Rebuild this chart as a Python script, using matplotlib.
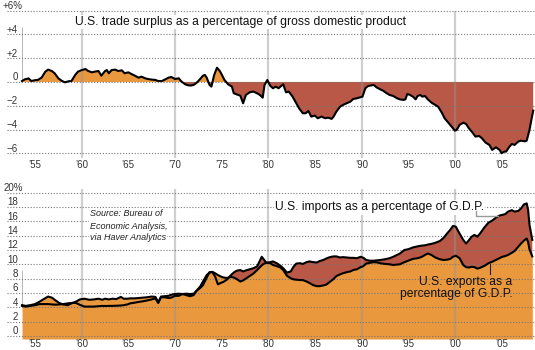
import matplotlib
matplotlib.use('Agg')
from matplotlib import pyplot as plt

plt.rcParams['font.family'] = ['Liberation Sans', 'DejaVu Sans']

ORANGE = '#e9983e'
RED = '#b95846'

# trade surplus as % of GDP (top panel)
bal_years = [1953.6, 1953.9, 1954.3, 1954.6, 1955.0, 1955.3, 1955.7, 1956.1, 1956.4, 1956.8,
             1957.1, 1957.5, 1957.9, 1958.2, 1958.6, 1958.9, 1959.3, 1959.6, 1960.0, 1960.4,
             1960.7, 1961.1, 1961.4, 1961.8, 1962.1, 1962.5, 1962.7, 1962.9, 1963.2, 1963.6,
             1963.9, 1964.3, 1964.6, 1965.0, 1965.4, 1965.7, 1966.1, 1966.4, 1966.8, 1967.1,
             1967.5, 1967.9, 1968.2, 1968.6, 1968.9, 1969.3, 1969.6, 1970.0, 1970.4, 1970.7,
             1971.1, 1971.4, 1971.7, 1972.0, 1972.3, 1972.7, 1973.0, 1973.2, 1973.4, 1973.7,
             1973.9, 1974.2, 1974.5, 1974.8, 1975.0, 1975.3, 1975.7, 1976.1, 1976.3, 1976.6,
             1977.0, 1977.3, 1977.6, 1978.0, 1978.4, 1978.8, 1979.1, 1979.4, 1979.6, 1979.9,
             1980.2, 1980.5, 1980.8, 1981.1, 1981.3, 1981.6, 1981.9, 1982.2, 1982.6, 1982.9,
             1983.3, 1983.7, 1984.0, 1984.3, 1984.6, 1985.0, 1985.3, 1985.7, 1986.1, 1986.4,
             1986.8, 1987.0, 1987.3, 1987.7, 1988.0, 1988.4, 1988.8, 1989.1, 1989.5, 1989.8,
             1990.1, 1990.4, 1990.7, 1991.1, 1991.3, 1991.6, 1992.0, 1992.3, 1992.7, 1993.0,
             1993.4, 1993.8, 1994.1, 1994.5, 1994.7, 1994.9, 1995.2, 1995.5, 1995.8, 1996.0,
             1996.3, 1996.5, 1996.8, 1997.1, 1997.5, 1997.9, 1998.2, 1998.6, 1998.9, 1999.3,
             1999.7, 2000.0, 2000.2, 2000.5, 2000.9, 2001.2, 2001.5, 2001.9, 2002.2, 2002.6,
             2002.9, 2003.3, 2003.7, 2004.0, 2004.4, 2004.8, 2005.0, 2005.3, 2005.5, 2005.8,
             2006.1, 2006.4, 2006.8, 2007.1, 2007.5, 2007.7, 2008.0, 2008.2, 2008.4]
bal_values = [0.08, 0.22, 0.30, 0.08, 0.15, 0.17, 0.37, 0.87, 1.04, 0.92,
              0.73, 0.30, 0.08, -0.03, 0.06, 0.08, 0.59, 0.87, 1.00, 1.09,
              0.92, 0.81, 0.87, 0.92, 0.53, 0.92, 1.00, 0.73, 1.00, 1.04,
              0.92, 0.98, 0.73, 0.81, 0.64, 0.53, 0.36, 0.45, 0.31, 0.25,
              0.20, 0.17, 0.08, 0.08, 0.20, 0.36, 0.42, 0.25, 0.31, 0.03,
              -0.20, -0.28, -0.30, -0.25, -0.08, 0.25, 0.53, 0.59, 0.36, -0.25,
              -0.39, 0.59, 1.20, 0.92, 0.64, 0.17, -0.20, -0.39, -0.95, -1.04,
              -1.15, -1.79, -1.09, -0.87, -0.81, -0.95, -1.09, -1.32, -0.25, 0.17,
              -0.31, -0.53, -0.39, -0.53, -0.39, -0.20, -0.87, -0.81, -1.23, -1.65,
              -2.21, -2.63, -2.63, -2.44, -2.91, -2.83, -3.05, -2.91, -3.05, -3.00,
              -3.10, -2.91, -2.49, -2.07, -1.93, -1.79, -1.65, -1.43, -1.37, -1.30,
              -1.23, -0.53, -0.34, -0.28, -0.25, -0.45, -0.62, -0.73, -0.95, -1.09,
              -1.18, -1.37, -1.46, -1.51, -1.46, -1.01, -1.09, -1.23, -1.46, -1.18,
              -1.09, -1.23, -1.18, -1.46, -1.74, -1.93, -2.07, -2.58, -3.05, -3.42,
              -3.81, -4.09, -4.03, -3.61, -3.42, -3.53, -3.89, -4.26, -4.59, -4.54,
              -4.73, -5.10, -5.29, -5.71, -5.49, -5.71, -5.99, -5.85, -5.85, -5.49,
              -5.21, -5.29, -5.01, -4.93, -4.99, -4.93, -4.03, -3.19, -2.41]

# exports and imports as % of GDP (bottom panel)
trade_years = [1953.6, 1954.0, 1954.5, 1955.0, 1955.5, 1956.0, 1956.4, 1956.8, 1957.2, 1957.6,
               1958.0, 1958.5, 1959.0, 1959.4, 1959.8, 1960.3, 1960.8, 1961.3, 1961.8, 1962.2,
               1962.5, 1962.9, 1963.3, 1963.7, 1964.2, 1964.5, 1964.9, 1965.2, 1965.7, 1966.1,
               1966.6, 1967.0, 1967.5, 1967.9, 1968.2, 1968.5, 1968.9, 1969.3, 1969.6, 1970.0,
               1970.4, 1970.8, 1971.2, 1971.6, 1972.0, 1972.3, 1972.7, 1973.0, 1973.4, 1973.7,
               1974.0, 1974.3, 1974.6, 1974.9, 1975.2, 1975.6, 1976.0, 1976.3, 1976.6, 1977.0,
               1977.3, 1977.6, 1978.0, 1978.4, 1978.8, 1979.1, 1979.3, 1979.5, 1979.8, 1980.2,
               1980.5, 1980.9, 1981.3, 1981.6, 1982.0, 1982.4, 1982.7, 1983.0, 1983.4, 1983.7,
               1984.1, 1984.4, 1984.8, 1985.2, 1985.5, 1985.9, 1986.2, 1986.6, 1987.0, 1987.3,
               1987.7, 1988.0, 1988.4, 1988.8, 1989.1, 1989.5, 1989.9, 1990.2, 1990.5, 1990.9,
               1991.3, 1991.7, 1992.0, 1992.5, 1993.0, 1993.4, 1993.8, 1994.1, 1994.6, 1995.0,
               1995.5, 1996.0, 1996.4, 1996.8, 1997.1, 1997.5, 1997.9, 1998.4, 1998.8, 1999.2,
               1999.5, 1999.8, 2000.1, 2000.5, 2000.9, 2001.2, 2001.5, 2001.8, 2002.1, 2002.4,
               2002.7, 2003.2, 2003.6, 2004.0, 2004.4, 2004.8, 2005.1, 2005.4, 2005.7, 2006.1,
               2006.4, 2006.8, 2007.1, 2007.4, 2007.7, 2007.85, 2008.0, 2008.3]
exports = [4.3, 4.2, 4.3, 4.45, 4.8, 5.2, 5.5, 5.35, 4.95, 4.6,
           4.4, 4.3, 4.6, 4.8, 5.1, 5.2, 5.05, 5.1, 5.2, 5.05,
           5.2, 5.1, 5.2, 5.15, 5.45, 5.2, 5.2, 5.25, 5.25, 5.3,
           5.35, 5.4, 5.5, 5.45, 4.7, 5.5, 5.55, 5.6, 5.75, 5.85,
           5.9, 5.85, 5.7, 5.55, 5.7, 6.3, 6.9, 7.6, 8.5, 8.85,
           8.95, 8.75, 8.5, 8.3, 8.15, 8.1, 8.25, 8.15, 7.95, 7.6,
           7.75, 8.0, 8.35, 8.7, 9.2, 9.6, 9.85, 10.05, 10.25, 10.15,
           9.9, 9.75, 9.55, 9.2, 8.4, 8.05, 7.9, 7.85, 7.8, 7.8,
           7.6, 7.4, 7.1, 6.95, 6.95, 7.05, 7.15, 7.55, 7.95, 8.35,
           8.6, 8.75, 8.9, 9.0, 9.2, 9.3, 9.6, 9.75, 10.1, 10.2,
           10.3, 10.25, 10.15, 10.05, 10.0, 9.9, 9.95, 10.0, 10.3, 10.5,
           10.75, 10.85, 11.0, 11.3, 11.5, 11.3, 10.95, 10.7, 10.6, 10.65,
           10.75, 11.05, 11.2, 10.85, 9.9, 9.6, 9.55, 9.65, 9.6, 9.4,
           9.5, 9.8, 10.15, 10.35, 10.6, 10.85, 11.05, 11.15, 11.3, 11.6,
           11.85, 12.45, 12.9, 13.3, 13.6, 13.1, 12.1, 11.1]
imports = [4.2, 4.1, 4.2, 4.3, 4.45, 4.45, 4.45, 4.4, 4.37, 4.4,
           4.45, 4.55, 4.62, 4.6, 4.35, 4.1, 4.1, 4.1, 4.15, 4.2,
           4.18, 4.2, 4.2, 4.22, 4.25, 4.3, 4.4, 4.55, 4.65, 4.75,
           4.85, 4.95, 5.1, 5.25, 4.6, 5.4, 5.4, 5.3, 5.35, 5.6,
           5.6, 5.85, 5.9, 5.85, 5.9, 6.3, 6.7, 7.1, 8.15, 8.9,
           8.9, 8.3, 7.2, 7.4, 7.55, 7.9, 8.5, 8.85, 9.1, 9.2,
           9.0, 9.15, 9.3, 9.45, 9.7, 10.5, 11.05, 10.7, 10.2, 10.3,
           10.4, 10.15, 9.8, 9.45, 8.85, 9.0, 9.65, 10.1, 10.15, 10.05,
           10.3, 10.4, 10.3, 10.25, 10.45, 10.6, 10.8, 11.0, 11.1, 11.1,
           10.95, 11.0, 10.95, 10.9, 10.9, 10.85, 11.05, 10.9, 10.6, 10.5,
           10.5, 10.55, 10.6, 10.7, 10.85, 11.05, 11.3, 11.5, 12.0, 12.1,
           12.35, 12.5, 12.6, 12.65, 12.75, 12.85, 13.0, 13.25, 13.7, 14.35,
           14.8, 15.35, 15.25, 14.3, 13.4, 12.9, 13.35, 13.85, 14.1, 13.85,
           14.3, 15.2, 15.8, 16.1, 16.5, 16.8, 16.9, 17.0, 17.35, 17.55,
           17.35, 17.45, 17.8, 18.35, 18.5, 17.6, 15.5, 13.4]

tick_years = [1955, 1960, 1965, 1970, 1975, 1980, 1985, 1990, 1995, 2000, 2005]
tick_labels = ['\u201955', '\u201960', '\u201965', '\u201970', '\u201975', '\u201980',
               '\u201985', '\u201990', '\u201995', '\u201900', '\u201905']
decades = [1960, 1970, 1980, 1990, 2000]
top_levels = [6, 4, 2, 0, -2, -4, -6]
top_labels = ['+6%', '+4', '+2', '0', '\u22122', '\u22124', '\u22126']
bot_levels = [20, 18, 16, 14, 12, 10, 8, 6, 4, 2, 0]
bot_labels = ['20%', '18', '16', '14', '12', '10', '8', '6', '4', '2', '0']

W, H = 535, 350
XLIM = (1951.24, 2008.59)

fig = plt.figure(figsize=(W / 100, H / 100), dpi=100)
ax1 = fig.add_axes([0, (H - 158) / H, 1, 153 / H])
ax2 = fig.add_axes([0, (H - 339) / H, 1, 154 / H])
ax1.set_ylim(-6.39, 6.47)
ax2.set_ylim(-0.42, 21.06)


def setup(ax, levels, labels, top, pad):
    ax.set_xlim(*XLIM)
    for s in ax.spines.values():
        s.set_visible(False)
    ax.set_yticks([])
    ax.set_xticks(tick_years)
    ax.set_xticklabels(tick_labels)
    ax.tick_params(axis='x', length=0, pad=pad, labelsize=7, labelcolor='#333333')
    ymin = ax.get_ylim()[0]
    # decade lines, see-through so they show over the fills
    ax.vlines(decades, ymin, top, color='#969696', lw=1.6, alpha=0.45, zorder=2)
    for lev, lab in zip(levels, labels):
        ax.axhline(lev, xmin=7 / W, color='#777777', lw=0.8, ls=(0, (1, 1.6)), zorder=3)
        right = 23 if '%' in lab else 18
        ax.annotate(lab, xy=(right / W, lev), xycoords=('axes fraction', 'data'),
                    xytext=(0, 3.3), textcoords='offset points', ha='right', va='center',
                    fontsize=7, color='#333333')


setup(ax1, top_levels, top_labels, 6, 1.8)
setup(ax2, bot_levels, bot_labels, 20.5, 0)

# top panel: surplus / deficit
ax1.fill_between(bal_years, 0, bal_values, where=[v >= 0 for v in bal_values],
                 interpolate=True, color=ORANGE, lw=0, zorder=1)
ax1.fill_between(bal_years, 0, bal_values, where=[v <= 0 for v in bal_values],
                 interpolate=True, color=RED, lw=0, zorder=1)
ax1.plot(bal_years, bal_values, color='black', lw=1.5, zorder=4)
ax1.vlines(bal_years[0], 0, 4.6, color='#aaaaaa', lw=0.6, zorder=2)
ax1.text(1959.28, 5.04, 'U.S. trade surplus as a percentage of gross domestic product',
         ha='left', va='center', fontsize=8.7, color='#111111', zorder=5,
         bbox=dict(facecolor='white', edgecolor='none', pad=1))

# bottom panel: exports and imports
ybot = ax2.get_ylim()[0]
ax2.fill_between(trade_years, ybot, exports, color=ORANGE, lw=0, zorder=1)
ax2.fill_between(trade_years, exports, imports,
                 where=[i >= e for e, i in zip(exports, imports)],
                 interpolate=True, color=RED, lw=0, zorder=1)
ax2.fill_between(trade_years, exports, imports,
                 where=[i <= e for e, i in zip(exports, imports)],
                 interpolate=True, color=ORANGE, lw=0, zorder=1)
ax2.plot(trade_years, imports, color='black', lw=1.5, zorder=4)
ax2.plot(trade_years, exports, color='black', lw=1.5, zorder=4)
ax2.vlines(trade_years[0], 4.3, 9.2, color='#aaaaaa', lw=0.6, zorder=2)

ax2.text(1980.72, 17.95, 'U.S. imports as a percentage of G.D.P.', ha='left', va='center',
         fontsize=8.7, color='#111111', zorder=5,
         bbox=dict(facecolor='white', edgecolor='none', pad=1))
ax2.plot([2002.3, 2002.3, 2004.65], [17.4, 16.74, 16.74], color='#999999', lw=1, zorder=5)

ax2.text(2006.19, 7.57, 'U.S. exports as a', ha='right', va='center',
         fontsize=8.7, color='#111111', zorder=5)
ax2.text(2006.19, 5.86, 'percentage of G.D.P.', ha='right', va='center',
         fontsize=8.7, color='#111111', zorder=5)
ax2.plot([2003.8, 2003.8], [10.0, 8.7], color='#222222', lw=0.8, zorder=5)

source = ['Source: Bureau of', 'Economic Analysis,', 'via Haver Analytics']
for k, line in enumerate(source):
    ax2.text(1960.9, [17.15, 15.34, 13.67][k], line, ha='left', va='center',
             fontsize=6.5, style='italic', color='#222222', zorder=5,
             bbox=dict(facecolor='white', edgecolor='none', pad=0.5))

fig.savefig('out.png', dpi=100)
